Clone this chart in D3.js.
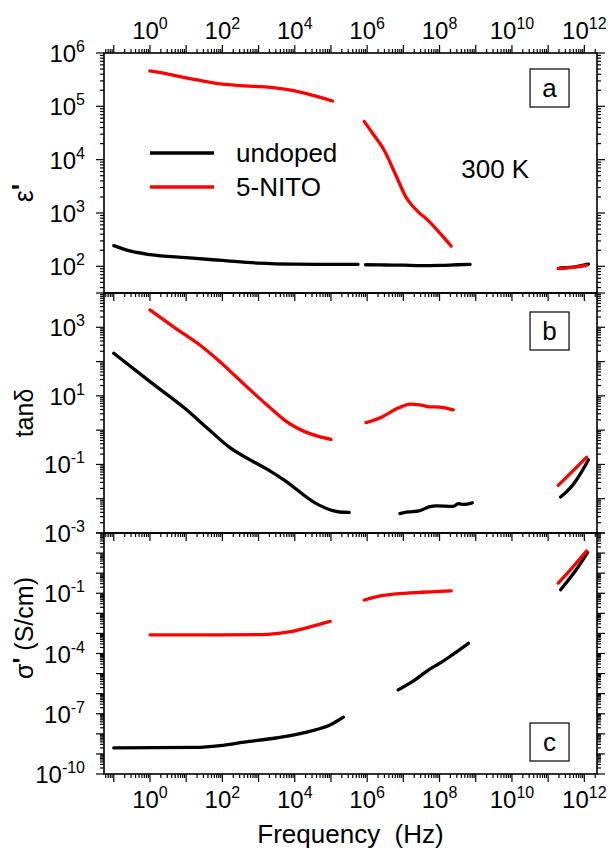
<!DOCTYPE html>
<html>
<head>
<meta charset="utf-8">
<script src="https://cdn.jsdelivr.net/npm/d3@7/dist/d3.min.js"></script>
<style>
  body { margin: 0; background: #fff; }
  svg { display: block; font-family: "Liberation Sans", Arial, sans-serif; }
</style>
</head>
<body>
<svg id="chart" width="612" height="853"></svg>
<script>
// ---- data: [frequency (Hz), value] ----
// panel a : epsilon'
var epsUndoped1 = [[0.1, 245], [0.32, 190], [1, 166], [10, 145], [100, 129], [1e3, 115], [1e4, 110], [1e5, 109], [5.6e5, 109]];
var epsUndoped2 = [[9e5, 107], [3e6, 106], [1e7, 105], [3e7, 103], [1e8, 104], [3e8, 107], [7e8, 109]];
var epsUndoped3 = [[2.2e11, 93], [6e11, 99], [1.3e12, 110]];
var epsNito1 = [[1, 4.6e5], [3.2, 4.0e5], [10, 3.4e5], [32, 2.95e5], [100, 2.6e5], [320, 2.45e5], [1e3, 2.35e5], [3.2e3, 2.2e5], [1e4, 1.95e5], [3.2e4, 1.6e5], [1.1e5, 1.26e5]];
var epsNito2 = [[8.3e5, 5.2e4], [1.38e6, 3.2e4], [2.95e6, 1.5e4], [6.3e6, 5e3], [1.2e7, 1.95e3], [1.8e7, 1.35e3], [2.57e7, 1.05e3], [4.9e7, 720], [1.05e8, 410], [2.1e8, 240]];
var epsNito3 = [[1.9e11, 91], [5e11, 96], [1.15e12, 104]];

// panel b : tan delta
var tanUndoped1 = [[0.1, 175], [1, 26], [9, 4.4], [40, 1.1], [155, 0.32], [720, 0.12], [2e3, 0.066], [5.1e3, 0.035], [4.7e4, 6.5e-3], [1.7e5, 4.1e-3], [3.2e5, 4e-3]];
var tanUndoped2 = [[8e6, 3.7e-3], [1.4e7, 4.1e-3], [2.7e7, 4.4e-3], [5.1e7, 5.75e-3], [8e7, 6.2e-3], [2.4e8, 6e-3], [3.3e8, 7.2e-3], [4.7e8, 6.8e-3], [8e8, 7.6e-3]];
var tanUndoped3 = [[2.2e11, 0.0112], [3.2e11, 0.0158], [4.7e11, 0.0245], [8e11, 0.056], [1.3e12, 0.138]];
var tanNito1 = [[1, 3.2e3], [5, 950], [27, 275], [80, 105], [240, 36], [890, 10], [2.5e3, 3.8], [5.1e3, 2.0], [1e4, 1.26], [1.95e4, 0.89], [4.5e4, 0.66], [1e5, 0.54]];
var tanNito2 = [[9.3e5, 1.66], [2.4e6, 2.35], [7.2e6, 4.4], [1.55e7, 5.75], [2.8e7, 5.5], [5.1e7, 4.8], [1e8, 4.7], [2.4e8, 3.9]];
var tanNito3 = [[1.9e11, 0.0245], [4.7e11, 0.063], [1.15e12, 0.162]];

// panel c : sigma'
var sigUndoped1 = [[0.1, 2e-9], [18.6, 2.1e-9], [87, 2.6e-9], [400, 3.9e-9], [3e3, 6.2e-9], [2.3e4, 1.26e-8], [1.07e5, 3.1e-8], [2.2e5, 6.8e-8]];
var sigUndoped2 = [[7.2e6, 1.55e-6], [2.2e7, 5.2e-6], [4.9e7, 1.5e-5], [1e8, 3.2e-5], [2.2e8, 8.3e-5], [6.3e8, 3.2e-4]];
var sigUndoped3 = [[2.2e11, 0.148], [5.5e11, 1.2], [1.23e12, 10.5]];
var sigNito1 = [[1, 8.5e-4], [10, 8.5e-4], [100, 8.5e-4], [1e3, 8.7e-4], [1.8e3, 9e-4], [8.5e3, 1.26e-3], [3e4, 2.24e-3], [9.5e4, 4e-3]];
var sigNito2 = [[8.3e5, 0.046], [2.3e6, 0.074], [6.3e6, 0.093], [3.2e7, 0.112], [1e8, 0.123], [2.1e8, 0.132]];
var sigNito3 = [[1.9e11, 0.32], [5e11, 2.2], [1.15e12, 12.6]];

var seriesNames = ['undoped', '5-NITO'];
var seriesColors = ['#000000', '#ff0000'];
var xLabelExps = [0, 2, 4, 6, 8, 10, 12];

var panels = [
  { letter: 'a', domain: [Math.pow(10, 1.5), 1e6], labelExps: [2, 3, 4, 5, 6],
    lines: [[epsUndoped1, epsUndoped2, epsUndoped3], [epsNito1, epsNito2, epsNito3]] },
  { letter: 'b', domain: [1e-3, 1e4], labelExps: [-3, -1, 1, 3],
    lines: [[tanUndoped1, tanUndoped2, tanUndoped3], [tanNito1, tanNito2, tanNito3]] },
  { letter: 'c', domain: [1e-10, 1e2], labelExps: [-10, -7, -4, -1],
    lines: [[sigUndoped1, sigUndoped2, sigUndoped3], [sigNito1, sigNito2, sigNito3]] }
];

// ---- layout ----
var left = 104, right = 597;
var tops = [53, 293, 533], bottom = 774;
var majorLen = 8, minorLen = 4;
var tickFont = 24, supFont = 16;

var svg = d3.select('#chart');

var x = d3.scaleLog()
  .domain([Math.pow(10, -1.27), Math.pow(10, 12.35)])
  .range([left, right]);

function logTicks(domain) {
  // majors at each decade, minors at 2..9
  var lo = Math.log10(domain[0]), hi = Math.log10(domain[1]);
  var out = [];
  for (var e = Math.floor(lo) - 1; e <= Math.ceil(hi); e++) {
    for (var m = 1; m < 10; m++) {
      var v = m * Math.pow(10, e);
      var lv = Math.log10(v);
      if (lv >= lo - 1e-9 && lv <= hi + 1e-9) out.push({ v: v, major: m === 1 });
    }
  }
  return out;
}

function supText(g, px, py, exp, anchor) {
  // "10" with a raised exponent, whole label anchored
  var t = g.append('text')
    .attr('x', px)
    .attr('y', py)
    .attr('text-anchor', anchor)
    .attr('font-size', tickFont)
    .attr('fill', '#000');
  t.append('tspan').text('10');
  t.append('tspan').attr('font-size', supFont).attr('dy', -10).text(exp);
}

var line = d3.line().curve(d3.curveMonotoneX);

panels.forEach(function(p, i) {
  var top = tops[i];
  var bot = i < 2 ? tops[i + 1] : bottom;
  var y = d3.scaleLog().domain(p.domain).range([bot, top]);
  var g = svg.append('g');

  // data
  p.lines.forEach(function(segs, s) {
    segs.forEach(function(seg) {
      g.append('path')
        .attr('d', line.x(function(d) { return x(d[0]); }).y(function(d) { return y(d[1]); })(seg))
        .attr('fill', 'none')
        .attr('stroke', seriesColors[s])
        .attr('stroke-width', 3.3)
        .attr('stroke-linecap', 'round')
        .attr('stroke-linejoin', 'round');
    });
  });

  // frame
  g.append('rect')
    .attr('x', left).attr('y', top)
    .attr('width', right - left).attr('height', bot - top)
    .attr('fill', 'none').attr('stroke', '#000').attr('stroke-width', 1.6);

  // y ticks, left and right, outward
  logTicks(p.domain).forEach(function(t) {
    var yy = y(t.v), len = t.major ? majorLen : minorLen;
    g.append('line').attr('x1', left).attr('x2', left - len).attr('y1', yy).attr('y2', yy)
      .attr('stroke', '#000').attr('stroke-width', 1.2);
    g.append('line').attr('x1', right).attr('x2', right + len).attr('y1', yy).attr('y2', yy)
      .attr('stroke', '#000').attr('stroke-width', 1.2);
  });
  p.labelExps.forEach(function(e) {
    supText(g, left - 19, y(Math.pow(10, e)) + 9, e, 'end');
  });

  // x ticks below each panel, pointing down
  logTicks(x.domain()).forEach(function(t) {
    var xx = x(t.v), len = t.major ? majorLen : minorLen;
    g.append('line').attr('x1', xx).attr('x2', xx).attr('y1', bot).attr('y2', bot + len)
      .attr('stroke', '#000').attr('stroke-width', 1.2);
    if (i === 0) {
      g.append('line').attr('x1', xx).attr('x2', xx).attr('y1', top).attr('y2', top - len)
        .attr('stroke', '#000').attr('stroke-width', 1.2);
    }
  });

  // panel letter box
  var bx = x(Math.pow(10, 10.5)), bw = 39, bh = 38;
  var by = [69, 312, 723][i];
  g.append('rect').attr('x', bx).attr('y', by).attr('width', bw).attr('height', bh)
    .attr('fill', '#fff').attr('stroke', '#000').attr('stroke-width', 1.2);
  g.append('text').attr('x', bx + bw / 2).attr('y', by + bh / 2 + 9)
    .attr('text-anchor', 'middle').attr('font-size', 26).text(p.letter);
});

// top and bottom frequency labels
xLabelExps.forEach(function(e) {
  var xx = x(Math.pow(10, e));
  supText(svg, xx, 39, e, 'middle');
  supText(svg, xx, 808, e, 'middle');
});

svg.append('text')
  .attr('x', (left + right) / 2).attr('y', 843)
  .attr('text-anchor', 'middle').attr('font-size', 26)
  .text('Frequency\u00a0\u00a0(Hz)');

// y titles
var epsT = svg.append('text')
  .attr('transform', 'translate(33,193) rotate(-90)')
  .attr('text-anchor', 'middle').attr('font-size', 27);
epsT.append('tspan').text('\u03b5');
epsT.append('tspan').attr('font-weight', 'bold').attr('dy', -2).text('\'');
svg.append('text')
  .attr('transform', 'translate(33,413) rotate(-90)')
  .attr('text-anchor', 'middle').attr('font-size', 25)
  .text('tan\u03b4');
var sigT = svg.append('text')
  .attr('transform', 'translate(33,628) rotate(-90)')
  .attr('text-anchor', 'middle').attr('font-size', 25);
sigT.append('tspan').text('\u03c3');
sigT.append('tspan').attr('font-weight', 'bold').attr('dy', -2).text('\'');
sigT.append('tspan').attr('dy', 2).text('\u00a0(S/cm)');

// legend
var legY = [153, 187];
seriesNames.forEach(function(n, i) {
  svg.append('line')
    .attr('x1', x(1)).attr('x2', x(Math.pow(10, 1.77)))
    .attr('y1', legY[i]).attr('y2', legY[i])
    .attr('stroke', seriesColors[i]).attr('stroke-width', 3.3);
  svg.append('text')
    .attr('x', x(Math.pow(10, 2.38))).attr('y', legY[i] + 9)
    .attr('font-size', 26).text(n);
});
svg.append('text')
  .attr('x', x(Math.pow(10, 8.6))).attr('y', 178)
  .attr('font-size', 26).text('300 K');
</script>
</body>
</html>
